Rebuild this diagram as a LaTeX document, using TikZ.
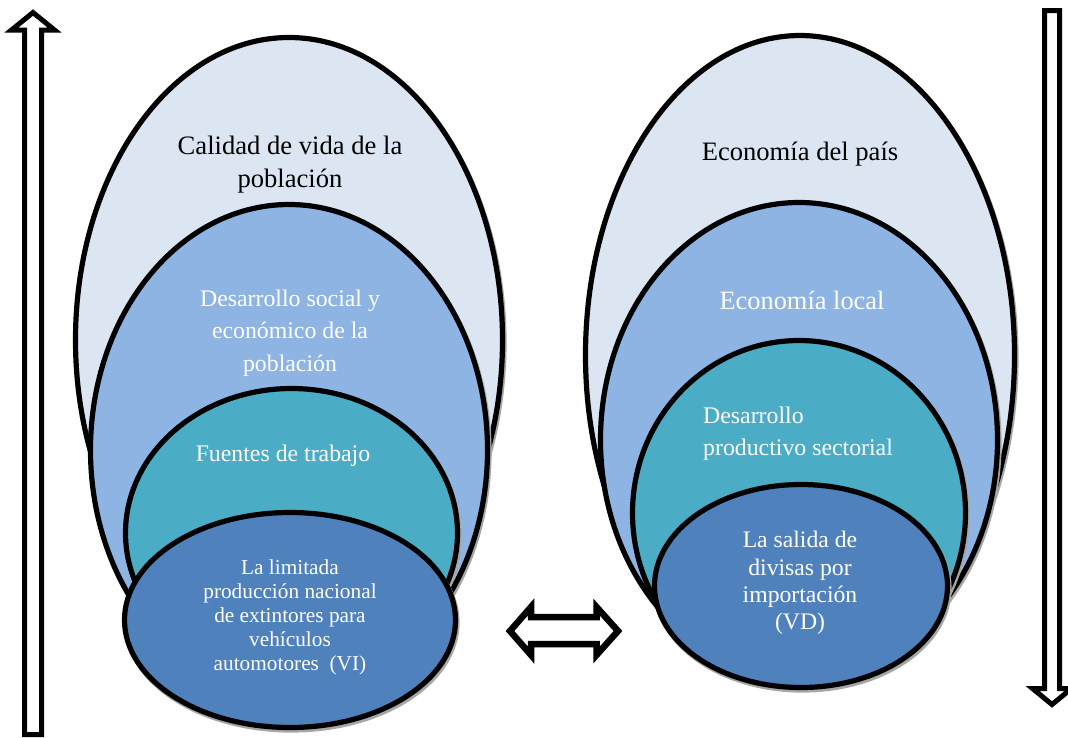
\documentclass[tikz,border=0pt]{standalone}
\usepackage{fontspec}
\setmainfont{Liberation Serif}
\usetikzlibrary{shapes.geometric}
\definecolor{cOne}{HTML}{DCE6F2}
\definecolor{cTwo}{HTML}{8EB4E3}
\definecolor{cThree}{HTML}{4BACC6}
\definecolor{cFour}{HTML}{4F81BD}
\definecolor{shadowgray}{HTML}{A6A6A6}
\newcommand{\myell}[6]{%
  \node[shadowell, minimum width=#4pt, minimum height=#5pt] at (#2+1.5,#3+2.5) {};
  \node[ell, fill=#6, minimum width=#4pt, minimum height=#5pt] (#1) at (#2,#3) {};
}
\begin{document}
\begin{tikzpicture}[x=1pt,y=-1pt,
  ell/.style={ellipse, draw=black, line width=5.2pt, inner sep=0pt},
  shadowell/.style={ellipse, draw=shadowgray, fill=shadowgray, line width=5.2pt, inner sep=0pt},
  blockarrow/.style={draw=black, fill=white, line width=5pt, line join=miter, miter limit=10},
  bigtxt/.style={align=center, inner sep=0pt, font=\fontsize{26.6}{33}\selectfont},
  midtxt/.style={align=center, inner sep=0pt, font=\fontsize{23.8}{32.5}\selectfont, text=white},
  smalltxt/.style={align=center, inner sep=0pt, font=\fontsize{21.3}{24}\selectfont, text=white}]
\useasboundingbox (0,0) rectangle (1068,737);
\fill[white] (0,0) rectangle (1068,737);

% left nest
\myell{lA}{289}{340}{427}{605}{cOne}
\myell{lB}{289}{450}{397}{491}{cTwo}
\myell{lC}{291.5}{533}{332}{289}{cThree}
\myell{lD}{290}{620}{331}{215}{cFour}

% right nest
\myell{rA}{800}{355}{429}{639}{cOne}
\myell{rB}{799}{440}{397}{475}{cTwo}
\myell{rC}{799}{513}{333}{345}{cThree}
\myell{rD}{801}{586}{293}{203}{cFour}

% texts left
\node[bigtxt] (tlA) at (290,165) {Calidad de vida de la\\población};
\node[midtxt] (tlB) at (290,333) {Desarrollo social y\\económico de la\\población};
\node[midtxt] (tlC) at (283,456) {Fuentes de trabajo};
\node[smalltxt] (tlD) at (290,617) {La limitada\\producción nacional\\de extintores para\\vehículos\\automotores\ \ (VI)};

% texts right
\node[bigtxt] (trA) at (800,154) {Economía del país};
\node[bigtxt, text=white, font=\fontsize{26.4}{33}\selectfont] (trB) at (802,300) {Economía local};
\node[midtxt, align=left, anchor=west] (trC) at (703,434) {Desarrollo\\productivo sectorial};
\node[smalltxt, font=\fontsize{23.7}{27.2}\selectfont] (trD) at (800,583) {La salida de\\divisas por\\importación\\(VD)};

% left up arrow
\draw[blockarrow] (24.5,734.5) -- (24.5,30) -- (11.5,30) -- (33,12.5) -- (54.5,30) -- (41.5,30) -- (41.5,734.5) -- cycle;
% right down arrow
\draw[blockarrow] (1044.5,10.5) -- (1044.5,688.5) -- (1032.5,688.5) -- (1052,704.5) -- (1071.5,688.5) -- (1059.5,688.5) -- (1059.5,10.5) -- cycle;
% middle double arrow
\draw[blockarrow, line width=6.5pt] (510,631) -- (531,607) -- (531,617) -- (596.5,617) -- (596.5,607) -- (618,631) -- (596.5,655) -- (596.5,644) -- (531,644) -- (531,655) -- cycle;
\end{tikzpicture}
\end{document}
